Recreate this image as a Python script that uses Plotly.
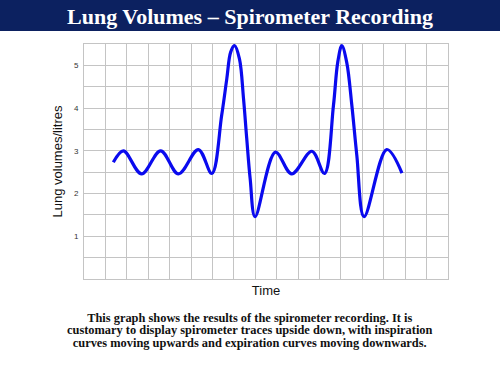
import plotly.graph_objects as go

# Trace (time in grid units, volume in litres)
time_pts = [1.37, 1.84, 2.69, 3.58, 4.41, 5.34, 5.97, 6.43, 6.67, 6.85, 7.03, 7.26, 7.45,
            7.60, 7.76, 7.99, 8.94, 9.70, 10.64, 11.23, 11.65, 11.85,
            12.04, 12.27, 12.51, 12.74, 13.08, 14.14, 14.85]
volume = [2.73, 3.00, 2.46, 3.00, 2.46, 3.03, 2.47, 3.83, 4.69, 5.31, 5.46, 5.15, 4.22,
          3.29, 2.35, 1.46, 2.97, 2.46, 2.99, 2.47, 4.06, 5.07,
          5.46, 5.07, 4.06, 2.90, 1.46, 3.03, 2.48]

y_grid = [0.5, 1, 1.5, 2, 2.5, 3, 3.5, 4, 4.5, 5]
y_labels = ["", "1", "", "2", "", "3", "", "4", "", "5"]
x_grid = list(range(1, 17))

title_text = "Lung Volumes – Spirometer Recording"
caption_lines = [
    "This graph shows the results of the spirometer recording. It is",
    "customary to display spirometer traces upside down, with inspiration",
    "curves moving upwards and expiration curves moving downwards.",
]

fig = go.Figure()
fig.add_trace(go.Scatter(
    x=time_pts, y=volume, mode="lines",
    line=dict(color="#0a0aee", width=3.2, shape="spline", smoothing=1.0),
    hoverinfo="skip", showlegend=False,
))

grid_col = "#c4c4c4"
fig.update_layout(
    width=500, height=375,
    margin=dict(l=84, r=52, t=44, b=96, autoexpand=False),
    paper_bgcolor="white", plot_bgcolor="white",
    font=dict(family="Liberation Sans, Arial", color="#222"),
    title=dict(text="<b>" + title_text + "</b>", x=0.5, xanchor="center", xref="container",
               y=1 - 16 / 375, yanchor="middle", yref="container", automargin=False,
               font=dict(family="Liberation Serif, Times New Roman", size=22, color="white")),
    xaxis=dict(range=[0, 17], tickvals=x_grid, showticklabels=False, ticks="",
               showgrid=True, gridcolor=grid_col, gridwidth=1, zeroline=False,
               showline=True, linecolor=grid_col, linewidth=1, mirror=True, automargin=False,
               title=dict(text="Time", font=dict(size=13, color="#111"), standoff=6),
               fixedrange=True),
    yaxis=dict(range=[0, 5.5], tickvals=y_grid, ticktext=y_labels, ticks="",
               tickfont=dict(size=8, color="#333"), ticklabelstandoff=3,
               showgrid=True, gridcolor=grid_col, gridwidth=1, zeroline=False,
               showline=True, linecolor=grid_col, linewidth=1, mirror=True, automargin=False,
               title=dict(text="Lung volumes/litres", font=dict(size=13, color="#111"), standoff=8),
               fixedrange=True),
)

# Title bar
fig.add_shape(type="rect", xref="paper", yref="paper", x0=-1, x1=2,
              ysizemode="pixel", yanchor=1, y0=13, y1=80,
              fillcolor="#0c2160", line=dict(width=0), layer="below")

# Caption: one text block; base size sets the tight line spacing, inner spans set glyph size
caption_html = "<br>".join(
    "<b><span style='font-size:12.4px'>" + line + "</span></b>" for line in caption_lines
)
fig.add_annotation(text=caption_html, xref="paper", yref="paper",
                   x=(250 - 84) / 364, y=(279 - 331) / 235,
                   xanchor="center", yanchor="middle", showarrow=False, align="center",
                   font=dict(family="Liberation Serif, Times New Roman", size=9.6, color="#111"))

fig.write_html("out.html", config={"displayModeBar": False},
               post_script="document.body.style.margin='0';")
